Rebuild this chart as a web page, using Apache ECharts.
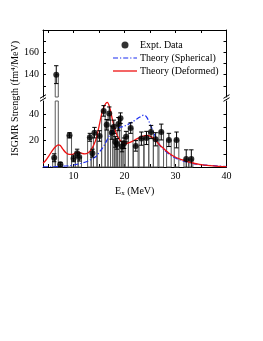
<!DOCTYPE html>
<html>
<head>
<meta charset="utf-8">
<script src="https://cdn.jsdelivr.net/npm/echarts@6/dist/echarts.min.js"></script>
<style>html,body{margin:0;padding:0;background:#fff}#c{width:263px;height:341px}</style>
</head>
<body>
<div id="c"></div>
<script>
// ---- data ----
const exptE   = [6.2, 6.6, 7.4, 9.2, 10.0, 10.7, 11.1, 13.2, 13.7, 14.1, 15.1, 15.9, 16.5, 17.0, 17.5, 17.9, 18.2, 18.5, 18.8, 19.2, 19.5, 19.9, 20.3, 21.2, 22.2, 23.3, 24.3, 25.2, 26.1, 27.2, 28.7, 30.2, 32.1, 33.1];
const exptVal = [7, 140, 2, 24, 6.5, 10.5, 7.5, 22.5, 10.5, 26, 23.5, 42.5, 32, 40.5, 26, 30.5, 19, 17.5, 32.5, 37, 15.5, 18, 23, 29.5, 16, 21.5, 22, 26.5, 21, 26.5, 20.5, 20.5, 6, 6];
const exptErr = [3, 8, 1.5, 2, 2.5, 3, 3, 3, 3, 4, 4, 4, 4, 5, 5, 5, 4, 4, 5, 4, 4, 4, 4, 4, 4, 5, 5, 5, 5, 6, 5, 6, 7, 7];

const sphE = [4.0, 6, 8, 10, 11.5, 12.5, 13.5, 14.4, 15, 15.7, 16.5, 17.2, 18, 19, 20, 21, 22, 23, 23.8, 24.3, 24.9, 25.5, 26, 26.9, 28.2, 29.5, 31.4, 34.1, 36.7, 40];
const sphV = [0.1, 0.2, 0.6, 1.5, 2.8, 4, 5.8, 8, 11, 14.5, 20, 25, 28.8, 30, 31, 33, 35.3, 37.8, 39.3, 38, 33.5, 28, 23.5, 16.5, 11.5, 7.7, 4.7, 2.2, 1.2, 0.3];

const defE = [4.0, 4.6, 5.25, 5.9, 6.5, 7.0, 7.4, 7.9, 8.5, 9.2, 9.8, 10.4, 11.0, 11.6, 12.2, 12.8, 13.4, 14.0, 14.5, 15.0, 15.5, 16.0, 16.6, 17.1, 17.5, 18.0, 18.6, 19.3, 20.3, 21.3, 22.5, 23.5, 24.4, 25.2, 26.0, 26.8, 27.5, 28.8, 30.2, 31.5, 32.8, 34.7, 36.7, 38.6, 40];
const defV = [2.8, 5.3, 9, 12.8, 15.5, 16.8, 16.3, 13.5, 10.8, 9.5, 9.6, 10.8, 11.2, 10.4, 10.0, 10.6, 12.8, 17, 22.5, 31, 40, 46, 49, 45, 38, 30, 23.5, 19.6, 17.8, 19, 21.5, 23.3, 24, 23, 20.5, 17, 14.5, 10.3, 7, 5.2, 3.6, 2, 1, 0.5, 0.3];

const xTickLabels = [10, 20, 30, 40];
const xTicks = [5, 10, 15, 20, 25, 30, 35];
const yLowLabels = [20, 40];
const yLowTicks = [10, 20, 30, 40];
const yHighLabels = [140, 160];
const yHighTicks = [130, 140, 150, 160, 170];

// ---- layout / style ----
const LOW_MIN = 0, LOW_MAX = 50, HIGH_MIN = 120, HIGH_MAX = 180;
const FONT = 'Liberation Serif';
const GL = 43, GR = 36.5, UPTOP = 30, UPH = 67, LOWTOP = 101, LOWH = 66;
const BLUE = '#1a2cf0', RED = '#ee1111';

const halfW = exptE.map((e, i) => {
  const l = i > 0 ? (e - exptE[i - 1]) / 2 : 0.3;
  const r = i < exptE.length - 1 ? (exptE[i + 1] - e) / 2 : 0.3;
  return [Math.min(l, 0.45), Math.min(r, 0.45)];
});

function barData(lo, hi) {
  const out = [];
  exptE.forEach((e, i) => {
    const v = exptVal[i];
    if (v <= lo) return;
    out.push([e, lo, Math.min(v, hi), halfW[i][0], halfW[i][1]]);
  });
  return out;
}
function errData(lo, hi) {
  const out = [];
  exptE.forEach((e, i) => {
    const v = exptVal[i];
    if (v < lo || v > hi) return;
    out.push([e, Math.max(v - exptErr[i], lo), Math.min(v + exptErr[i], hi), v - exptErr[i] > lo ? 1 : 0]);
  });
  return out;
}
function dotData(lo, hi) {
  const out = [];
  exptE.forEach((e, i) => { if (exptVal[i] >= lo && exptVal[i] <= hi) out.push([e, exptVal[i]]); });
  return out;
}

const barRender = (params, api) => {
  const e = api.value(0), lo = api.value(1), hi = api.value(2);
  const p1 = api.coord([e - api.value(3), hi]);
  const p2 = api.coord([e + api.value(4), lo]);
  return { type: 'rect', shape: { x: p1[0], y: p1[1], width: p2[0] - p1[0], height: p2[1] - p1[1] },
           style: { fill: 'none', stroke: '#5a5a5a', lineWidth: 1 } };
};
const errRender = (params, api) => {
  const e = api.value(0);
  const pl = api.coord([e, api.value(1)]);
  const ph = api.coord([e, api.value(2)]);
  const c = 2.2;
  const children = [
    { type: 'line', shape: { x1: pl[0], y1: pl[1], x2: ph[0], y2: ph[1] }, style: { stroke: '#000', lineWidth: 1 } },
    { type: 'line', shape: { x1: ph[0] - c, y1: ph[1], x2: ph[0] + c, y2: ph[1] }, style: { stroke: '#000', lineWidth: 1 } }
  ];
  if (api.value(3)) children.push({ type: 'line', shape: { x1: pl[0] - c, y1: pl[1], x2: pl[0] + c, y2: pl[1] }, style: { stroke: '#000', lineWidth: 1 } });
  return { type: 'group', children };
};

const axisLine = { show: true, lineStyle: { color: '#000', width: 1 } };
const tick = vals => ({ show: true, inside: true, length: 3, customValues: vals, lineStyle: { color: '#000', width: 1 } });
const lbl = (vals, extra) => Object.assign({ show: true, customValues: vals, fontFamily: FONT, fontSize: 10, color: '#000' }, extra || {});

const chart = echarts.init(document.getElementById('c'), null, { renderer: 'canvas' });

const breakLines = [];
[GL, 263 - GR].forEach(x => {
  [96.5, 99.5].forEach(y => {
    breakLines.push({ type: 'line', shape: { x1: x - 3, y1: y + 1.8, x2: x + 3, y2: y - 1.8 }, style: { stroke: '#000', lineWidth: 1 }, z: 100 });
  });
});

// legend icons (pure decoration)
const ICON_SOLID = 'path://M0,0H24V1.3H0Z';
const ICON_DASHDOT = 'path://M0,0H5V1.2H0Z M7,0H8.2V1.2H7Z M10.2,0H15.2V1.2H10.2Z M17.2,0H18.4V1.2H17.2Z M20.4,0H24V1.2H20.4Z';

chart.setOption({
  animation: false,
  backgroundColor: '#fff',
  grid: [
    { left: GL, right: GR, top: UPTOP, height: UPH },
    { left: GL, right: GR, top: LOWTOP, height: LOWH }
  ],
  xAxis: [
    { type: 'value', gridIndex: 0, position: 'top', min: 4, max: 40, axisLine, axisTick: tick(xTicks), axisLabel: { show: false }, splitLine: { show: false } },
    { type: 'value', gridIndex: 1, position: 'bottom', min: 4, max: 40, axisLine, axisTick: tick(xTicks),
      axisLabel: lbl(xTickLabels, { margin: 4 }), splitLine: { show: false },
      name: '{a|E}{s|x}{a| (MeV)}', nameLocation: 'middle', nameGap: 18,
      nameTextStyle: { fontFamily: FONT, color: '#000', rich: { a: { fontFamily: FONT, fontSize: 10, lineHeight: 12, color: '#000' }, s: { fontFamily: FONT, fontSize: 7, lineHeight: 6, verticalAlign: 'bottom', color: '#000' } } } }
  ],
  yAxis: [
    { type: 'value', gridIndex: 0, position: 'left', min: HIGH_MIN, max: HIGH_MAX, axisLine, axisTick: tick(yHighTicks), axisLabel: lbl(yHighLabels, { margin: 4 }), splitLine: { show: false } },
    { type: 'value', gridIndex: 0, position: 'right', min: HIGH_MIN, max: HIGH_MAX, axisLine, axisTick: tick(yHighTicks), axisLabel: { show: false }, splitLine: { show: false } },
    { type: 'value', gridIndex: 1, position: 'left', min: LOW_MIN, max: LOW_MAX, axisLine, axisTick: tick(yLowTicks), axisLabel: lbl(yLowLabels, { margin: 4 }), splitLine: { show: false } },
    { type: 'value', gridIndex: 1, position: 'right', min: LOW_MIN, max: LOW_MAX, axisLine, axisTick: tick(yLowTicks), axisLabel: { show: false }, splitLine: { show: false } }
  ],
  legend: {
    orient: 'vertical', left: 113, top: 39, padding: 0, itemWidth: 24, itemHeight: 7, itemGap: 1,
    textStyle: { fontFamily: FONT, fontSize: 10, color: '#000', lineHeight: 12, padding: [0, 0, 0, -2] },
    data: [
      { name: 'Expt. Data', icon: 'circle' },
      { name: 'Theory (Spherical)', icon: ICON_DASHDOT },
      { name: 'Theory (Deformed)', icon: ICON_SOLID }
    ],
    selectedMode: false
  },
  graphic: [
    { type: 'text', x: 15, y: 98.5, rotation: Math.PI / 2, style: { text: 'ISGMR Strength (fm⁴/MeV)', fontFamily: FONT, fontSize: 10, fill: '#000', align: 'center', verticalAlign: 'middle' } },
    ...breakLines
  ],
  series: [
    { type: 'custom', name: 'bars-low', xAxisIndex: 1, yAxisIndex: 2, data: barData(LOW_MIN, LOW_MAX), renderItem: barRender, encode: { x: 0, y: 2 }, z: 1, silent: true },
    { type: 'custom', name: 'bars-high', xAxisIndex: 0, yAxisIndex: 0, data: barData(HIGH_MIN, HIGH_MAX), renderItem: barRender, encode: { x: 0, y: 2 }, z: 1, silent: true },
    { type: 'line', name: 'Theory (Spherical)', xAxisIndex: 1, yAxisIndex: 2, data: sphE.map((e, i) => [e, sphV[i]]), smooth: 0.35, symbol: 'none',
      lineStyle: { color: BLUE, width: 1.2, type: [5, 2, 1.2, 2] }, itemStyle: { color: BLUE }, z: 3 },
    { type: 'line', name: 'Theory (Deformed)', xAxisIndex: 1, yAxisIndex: 2, data: defE.map((e, i) => [e, defV[i]]), smooth: 0.35, symbol: 'none',
      lineStyle: { color: RED, width: 1.3 }, itemStyle: { color: RED }, z: 4 },
    { type: 'custom', name: 'err-low', xAxisIndex: 1, yAxisIndex: 2, data: errData(LOW_MIN, LOW_MAX), renderItem: errRender, encode: { x: 0, y: 2 }, z: 5, silent: true },
    { type: 'custom', name: 'err-high', xAxisIndex: 0, yAxisIndex: 0, data: errData(HIGH_MIN, HIGH_MAX), renderItem: errRender, encode: { x: 0, y: 2 }, z: 5, silent: true },
    { type: 'scatter', name: 'Expt. Data', xAxisIndex: 1, yAxisIndex: 2, data: dotData(LOW_MIN, LOW_MAX), symbol: 'circle', symbolSize: 6, itemStyle: { color: '#000' }, z: 6 },
    { type: 'scatter', name: 'Expt. Data', xAxisIndex: 0, yAxisIndex: 0, data: dotData(HIGH_MIN, HIGH_MAX), symbol: 'circle', symbolSize: 6, itemStyle: { color: '#000' }, z: 6 }
  ]
});
</script>
</body>
</html>
